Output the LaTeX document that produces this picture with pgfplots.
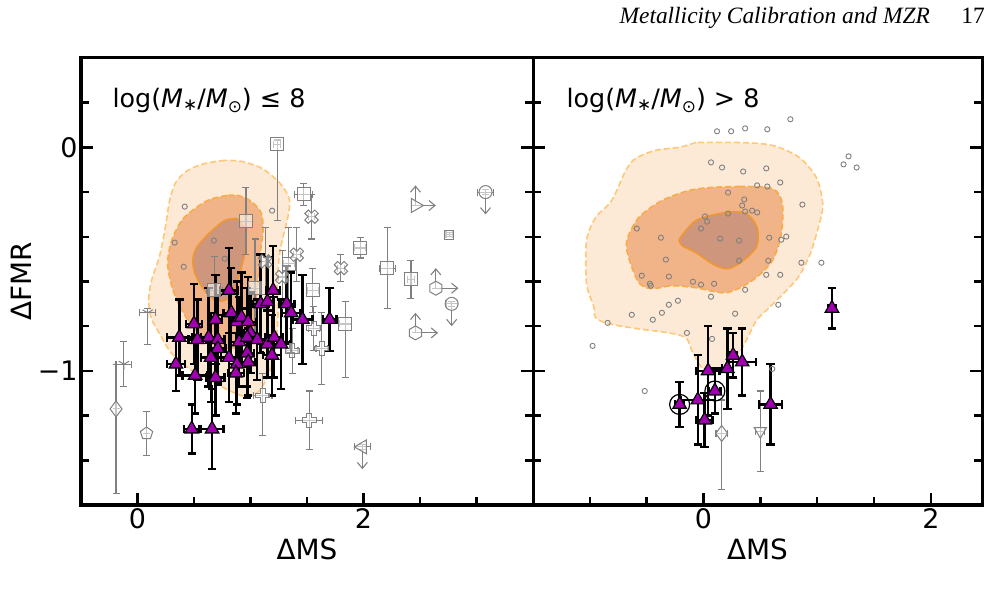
\documentclass[border=0pt]{standalone}
\usepackage{fontspec}
\setmainfont{DejaVu Sans}
\newfontfamily\hdr{Liberation Serif}
\usepackage{pgfplots}
\pgfplotsset{compat=1.18}
\usetikzlibrary{plotmarks,arrows.meta}

\definecolor{purp}{RGB}{160,0,175}
\definecolor{c1}{RGB}{253,234,214}
\definecolor{c2}{RGB}{241,180,136}
\definecolor{c3}{RGB}{205,150,125}
\definecolor{e1}{RGB}{254,200,120}
\definecolor{e2}{RGB}{250,170,70}
\definecolor{e3}{RGB}{240,150,50}
\definecolor{gmark}{RGB}{128,128,128}

\pgfdeclareplotmark{hexagon}{%
 \pgfpathmoveto{\pgfpointpolar{90}{\pgfplotmarksize}}%
 \pgfpathlineto{\pgfpointpolar{150}{\pgfplotmarksize}}%
 \pgfpathlineto{\pgfpointpolar{210}{\pgfplotmarksize}}%
 \pgfpathlineto{\pgfpointpolar{270}{\pgfplotmarksize}}%
 \pgfpathlineto{\pgfpointpolar{330}{\pgfplotmarksize}}%
 \pgfpathlineto{\pgfpointpolar{30}{\pgfplotmarksize}}%
 \pgfpathclose\pgfusepathqfillstroke}
\pgfdeclareplotmark{plusP}{%
 \pgfpathmoveto{\pgfpoint{0.35\pgfplotmarksize}{\pgfplotmarksize}}%
 \pgfpathlineto{\pgfpoint{0.35\pgfplotmarksize}{0.35\pgfplotmarksize}}%
 \pgfpathlineto{\pgfpoint{\pgfplotmarksize}{0.35\pgfplotmarksize}}%
 \pgfpathlineto{\pgfpoint{\pgfplotmarksize}{-0.35\pgfplotmarksize}}%
 \pgfpathlineto{\pgfpoint{0.35\pgfplotmarksize}{-0.35\pgfplotmarksize}}%
 \pgfpathlineto{\pgfpoint{0.35\pgfplotmarksize}{-\pgfplotmarksize}}%
 \pgfpathlineto{\pgfpoint{-0.35\pgfplotmarksize}{-\pgfplotmarksize}}%
 \pgfpathlineto{\pgfpoint{-0.35\pgfplotmarksize}{-0.35\pgfplotmarksize}}%
 \pgfpathlineto{\pgfpoint{-\pgfplotmarksize}{-0.35\pgfplotmarksize}}%
 \pgfpathlineto{\pgfpoint{-\pgfplotmarksize}{0.35\pgfplotmarksize}}%
 \pgfpathlineto{\pgfpoint{-0.35\pgfplotmarksize}{0.35\pgfplotmarksize}}%
 \pgfpathlineto{\pgfpoint{-0.35\pgfplotmarksize}{\pgfplotmarksize}}%
 \pgfpathclose\pgfusepathqfillstroke}
\pgfdeclareplotmark{xP}{\pgftransformrotate{45}\pgfuseplotmark{plusP}}

\tikzset{gmk/.style={draw=gmark, fill=white, fill opacity=0.55, line width=1bp}}

\pgfplotsset{
 panel/.style={
  anchor=south west, scale only axis, height=447bp,
  ymin=-1.6, ymax=0.4, ytick={-1,0},
  minor ytick={-1.4,-1.2,-0.8,-0.6,-0.4,-0.2,0.2},
  xtick={0,2}, xticklabels={0,2},
  tick align=inside, xtick pos=lower,
  major tick length=12bp, minor tick length=8bp,
  tick style={black, line width=2.5bp},
  axis line style={line width=3bp},
  axis on top,
  tick label style={font=\fontsize{27}{32}\selectfont},
  label style={font=\fontsize{28}{34}\selectfont},
  xlabel={ΔMS},
  xlabel style={at={(rel axis cs:0.5,-0.1)}, anchor=center},
 },
 gerr/.style={only marks,
  mark options={gmk},
  error bars/x dir=both, error bars/x explicit,
  error bars/y dir=both, error bars/y explicit,
  error bars/error bar style={gmark, line width=1.1bp},
  error bars/error mark options={rotate=90, gmark, mark size=3.5bp, line width=1.1bp}},
 perr/.style={only marks, mark=triangle*, mark size=7.8bp,
  mark options={fill=purp, draw=black, line width=1.2bp},
  error bars/x dir=both, error bars/x explicit,
  error bars/y dir=both, error bars/y explicit,
  error bars/error bar style={black, line width=2.4bp},
  error bars/error mark options={rotate=90, black, mark size=4.2bp, line width=2.4bp}},
 gcirc/.style={only marks, mark=o, mark size=2.6bp, gmark, mark options={line width=0.9bp}},
 cont1/.style={fill=c1, draw=e1, line width=1.6bp, dash pattern=on 6bp off 3bp, smooth, no markers},
 cont2/.style={fill=c2, draw=e2, line width=1.6bp, dash pattern=on 6bp off 3bp, smooth, no markers},
 cont3/.style={fill=c3, draw=e3, line width=1.6bp, smooth, no markers},
}

\begin{document}
\begin{tikzpicture}
\path[use as bounding box] (0bp,0bp) rectangle (998bp,604bp);
\node[anchor=base east, inner sep=0pt, font=\hdr\itshape\fontsize{23.5}{28}\selectfont] at (930bp,580bp) {Metallicity Calibration and MZR};
\node[anchor=base east, inner sep=0pt, font=\hdr\fontsize{23.5}{28}\selectfont] at (985bp,580bp) {17};

% ---------------- left panel ----------------
\begin{axis}[panel, at={(81bp,99bp)}, width=452bp,
  xmin=-0.5, xmax=3.5, minor xtick={0.5,1,1.5,2.5,3},
  yticklabels={−1,0},
  ylabel={ΔFMR},
  ylabel style={at={(rel axis cs:-0.131,0.5)}, anchor=center},
]
\addplot[cont1] coordinates {(0.773,-0.058) (0.596,-0.072) (0.444,-0.103) (0.338,-0.157) (0.284,-0.238) (0.249,-0.350) (0.196,-0.484) (0.124,-0.596) (0.098,-0.686) (0.124,-0.767) (0.196,-0.834) (0.284,-0.910) (0.391,-0.964) (0.551,-1.022) (0.729,-1.067) (0.933,-1.112) (1.067,-1.094) (1.173,-1.000) (1.227,-0.865) (1.244,-0.731) (1.236,-0.610) (1.262,-0.462) (1.333,-0.305) (1.342,-0.229) (1.262,-0.161) (1.102,-0.094) (0.924,-0.063) (0.773,-0.058)};
\addplot[cont2] coordinates {(0.791,-0.215) (0.640,-0.233) (0.507,-0.274) (0.391,-0.327) (0.302,-0.417) (0.267,-0.516) (0.302,-0.619) (0.373,-0.709) (0.480,-0.798) (0.622,-0.865) (0.773,-0.901) (0.924,-0.888) (1.013,-0.821) (1.049,-0.709) (1.067,-0.596) (1.084,-0.484) (1.111,-0.372) (1.093,-0.291) (0.996,-0.238) (0.889,-0.215) (0.791,-0.215)};
\addplot[cont3] coordinates {(0.880,-0.318) (0.951,-0.363) (0.960,-0.439) (0.924,-0.529) (0.871,-0.619) (0.800,-0.677) (0.693,-0.686) (0.596,-0.641) (0.516,-0.574) (0.489,-0.507) (0.524,-0.448) (0.640,-0.381) (0.773,-0.327) (0.880,-0.318)};
\addplot[gcirc] coordinates {(0.418,-0.265) (0.329,-0.426) (0.409,-0.534) (0.676,-0.417) (0.773,-0.498) (1.191,-0.283)};
% squares
\addplot[gerr, mark=square*, mark size=6.5bp] coordinates {
 (1.236,0.013) += (0.03,0.02) -= (0.03,0.34)
 (0.96,-0.33) +- (0.06,0.15)
 (0.68,-0.64) +- (0.07,0.15)
 (1.04,-0.63) +- (0.05,0.22)
 (1.47,-0.21) +- (0.08,0.05)
 (1.34,-0.52) +- (0.05,0.16)
 (1.55,-0.64) +- (0.05,0.10)
 (1.97,-0.45) +- (0.05,0.045)
 (2.21,-0.54) +- (0.07,0.18)
 (2.42,-0.59) +- (0.03,0.085)
 (1.84,-0.79) += (0.05,0.10) -= (0.05,0.24)
};
\addplot[gerr, mark=square*, mark size=4.5bp] coordinates {(2.76,-0.39) +- (0.03,0.01)};
% thick x
\addplot[gerr, mark=xP, mark size=7bp] coordinates {
 (1.54,-0.31) +- (0.03,0.10)
 (1.41,-0.48) +- (0.03,0.12)
 (1.80,-0.54) +- (0.03,0.06)
 (1.13,-0.51) +- (0.03,0.15)
 (1.28,-0.58) +- (0.03,0.12)
};
% thick plus
\addplot[gerr, mark=plusP, mark size=7bp] coordinates {
 (1.56,-0.81) +- (0.05,0.10)
 (1.63,-0.90) +- (0.05,0.16)
 (1.37,-0.91) +- (0.05,0.10)
 (1.11,-1.11) += (0.08,0.10) -= (0.08,0.18)
 (1.52,-1.22) +- (0.12,0.13)
};
\addplot[gerr, mark=pentagon*, mark size=6.5bp] coordinates {(0.08,-1.28) +- (0.0,0.10)};
\addplot[gerr, mark=diamond*, mark size=8bp] coordinates {(-0.19,-1.17) += (0,0.20) -= (0,0.38)};
\addplot[gerr, mark=Mercedes star flipped, mark size=6bp] coordinates {
 (0.09,-0.74) += (0.07,0.02) -= (0.07,0.14)
 (-0.12,-0.97) +- (0.07,0.10)
};
% limits
\addplot[gerr, mark=triangle*, mark size=8bp, mark options={gmk, rotate=-90}] coordinates {(2.46,-0.26) +- (0,0)};
\addplot[gerr, mark=*, mark size=6.5bp] coordinates {(3.08,-0.20) +- (0.07,0.01) (2.78,-0.70) +- (0.05,0.01)};
\addplot[gerr, mark=hexagon, mark size=7bp] coordinates {(2.64,-0.63) +- (0,0) (2.46,-0.83) +- (0,0)};
\addplot[gerr, mark=triangle*, mark size=8bp, mark options={gmk, rotate=90}] coordinates {(1.99,-1.34) +- (0.07,0.01)};
\addplot[gmark, line width=1.1bp, -{Straight Barb[length=6bp,width=10bp]},
  quiver={u=\thisrow{u}, v=\thisrow{v}}] table[row sep=\\] {
 x y u v\\
 2.46 -0.26 0 0.09\\
 2.46 -0.26 0.18 0\\
 3.08 -0.20 0 -0.10\\
 2.64 -0.63 0 0.09\\
 2.64 -0.63 0.20 0\\
 2.78 -0.70 0 -0.10\\
 2.46 -0.83 0 0.09\\
 2.46 -0.83 0.20 0\\
 1.99 -1.34 0 -0.10\\
};
% purple
\addplot[perr] coordinates {
 (0.81,-0.64) +- (0.08,0.19)
 (1.20,-0.64) +- (0.06,0.20)
 (1.09,-0.70) +- (0.07,0.22)
 (1.15,-0.69) +- (0.06,0.20)
 (1.32,-0.70) +- (0.07,0.17)
 (1.36,-0.74) +- (0.08,0.18)
 (1.46,-0.77) +- (0.09,0.20)
 (1.70,-0.77) +- (0.06,0.14)
 (0.83,-0.74) +- (0.07,0.20)
 (0.69,-0.77) +- (0.06,0.20)
 (0.50,-0.79) +- (0.07,0.18)
 (0.88,-0.78) +- (0.07,0.18)
 (0.92,-0.76) +- (0.08,0.20)
 (0.98,-0.78) +- (0.07,0.20)
 (1.00,-0.83) +- (0.06,0.18)
 (0.37,-0.85) +- (0.11,0.17)
 (0.53,-0.86) +- (0.08,0.18)
 (0.63,-0.85) +- (0.07,0.22)
 (0.71,-0.86) +- (0.06,0.20)
 (0.71,-0.90) +- (0.07,0.15)
 (0.90,-0.87) +- (0.07,0.20)
 (0.97,-0.85) +- (0.06,0.22)
 (1.06,-0.86) +- (0.07,0.18)
 (1.15,-0.88) +- (0.09,0.15)
 (1.21,-0.85) +- (0.08,0.18)
 (1.27,-0.88) +- (0.08,0.20)
 (0.65,-0.94) +- (0.09,0.20)
 (0.81,-0.94) +- (0.07,0.20)
 (0.97,-0.92) +- (0.06,0.20)
 (0.98,-0.96) +- (0.06,0.15)
 (0.88,-0.97) +- (0.07,0.18)
 (1.19,-0.93) +- (0.08,0.18)
 (0.34,-0.97) +- (0.08,0.12)
 (0.51,-1.02) +- (0.11,0.17)
 (0.69,-1.03) +- (0.08,0.17)
 (0.87,-1.01) +- (0.07,0.18)
 (0.48,-1.26) +- (0.07,0.11)
 (0.66,-1.26) +- (0.10,0.18)
};
\node[anchor=west, font=\fontsize{25.5}{30}\selectfont] at (rel axis cs:0.062,0.906)
 {log(\textit{M}\raisebox{-3bp}{\fontsize{17}{17}\selectfont ∗}/\textit{M}\raisebox{-5bp}{\fontsize{17}{17}\selectfont ⊙}) ≤ 8};
\end{axis}

% ---------------- right panel ----------------
\begin{axis}[panel, at={(533bp,99bp)}, width=449bp,
  xmin=-1.5, xmax=2.45, minor xtick={-1,-0.5,0.5,1,1.5},
  yticklabels={},
]
\addplot[cont1] coordinates {(-0.066,0.022) (-0.216,0.000) (-0.419,-0.013) (-0.596,-0.049) (-0.684,-0.103) (-0.808,-0.238) (-0.949,-0.314) (-1.029,-0.417) (-1.029,-0.610) (-0.967,-0.709) (-0.949,-0.762) (-0.834,-0.789) (-0.570,-0.812) (-0.305,-0.830) (-0.155,-0.852) (-0.102,-0.910) (-0.013,-0.987) (0.110,-1.000) (0.225,-0.969) (0.340,-0.897) (0.464,-0.776) (0.578,-0.717) (0.728,-0.641) (0.843,-0.574) (0.949,-0.462) (1.037,-0.305) (1.046,-0.238) (0.993,-0.135) (0.843,-0.045) (0.605,0.009) (0.313,0.022) (-0.066,0.022)};
\addplot[cont2] coordinates {(0.313,-0.175) (0.605,-0.184) (0.693,-0.251) (0.684,-0.386) (0.605,-0.507) (0.428,-0.596) (0.199,-0.650) (-0.066,-0.628) (-0.278,-0.619) (-0.455,-0.632) (-0.570,-0.605) (-0.658,-0.493) (-0.675,-0.417) (-0.570,-0.314) (-0.366,-0.238) (-0.128,-0.193) (0.075,-0.179) (0.313,-0.175)};
\addplot[cont3] coordinates {(-0.216,-0.413) (-0.066,-0.327) (0.199,-0.291) (0.375,-0.296) (0.472,-0.359) (0.464,-0.448) (0.313,-0.520) (0.199,-0.543) (0.075,-0.520) (-0.066,-0.471) (-0.190,-0.439) (-0.216,-0.413)};
\addplot[gcirc] coordinates {
 (0.119,0.072) (0.243,0.072) (0.366,0.085) (0.561,0.081) (0.764,0.126)
 (0.066,-0.067) (0.163,-0.090) (0.349,-0.108) (0.552,-0.094)
 (0.675,-0.157) (0.472,-0.170) (0.561,-0.175)
 (0.216,-0.202) (0.358,-0.233) (0.340,-0.260) (0.366,-0.287) (0.428,-0.283) (0.472,-0.291)
 (0.216,-0.296) (0.013,-0.309) (0.031,-0.332) (-0.022,-0.363) (-0.587,-0.363)
 (-0.375,-0.404) (0.146,-0.408) (0.313,-0.417) (0.578,-0.404) (0.728,-0.399) (0.684,-0.413) (0.870,-0.256)
 (-0.331,-0.502) (0.313,-0.507) (0.570,-0.507) (0.861,-0.516) (1.037,-0.516)
 (-0.543,-0.574) (-0.305,-0.578) (0.552,-0.570) (0.675,-0.570)
 (-0.472,-0.610) (-0.464,-0.619) (-0.093,-0.601) (-0.022,-0.614) (0.093,-0.610)
 (0.366,-0.637) (0.066,-0.668)
 (-0.225,-0.686) (-0.305,-0.704) (0.658,-0.704)
 (-0.631,-0.749) (-0.366,-0.740) (-0.446,-0.771) (0.278,-0.744) (-0.843,-0.785)
 (-0.146,-0.830) (0.075,-0.857) (-0.976,-0.888) (-0.517,-1.090) (0.605,-0.991)
 (1.276,-0.040) (1.232,-0.076) (1.347,-0.090)
};
\addplot[gerr, mark=diamond*, mark size=8bp] coordinates {(0.16,-1.28) += (0.05,0.15) -= (0.05,0.25)};
\addplot[gerr, mark=triangle*, mark size=7bp, mark options={gmk, rotate=180}] coordinates {(0.50,-1.27) +- (0.04,0.18)};
\addplot[only marks, mark=o, mark size=10bp, black, mark options={line width=1.2bp}] coordinates {(-0.21,-1.15) (0.10,-1.09)};
\addplot[perr] coordinates {
 (1.13,-0.72) +- (0.03,0.09)
 (0.26,-0.93) +- (0.03,0.10)
 (0.34,-0.96) +- (0.12,0.15)
 (0.21,-0.99) +- (0.05,0.18)
 (0.04,-1.00) +- (0.10,0.20)
 (-0.05,-1.13) +- (0.15,0.20)
 (0.10,-1.09) +- (0.05,0.10)
 (-0.21,-1.15) +- (0.04,0.10)
 (0.01,-1.22) +- (0.07,0.12)
 (0.59,-1.15) +- (0.10,0.18)
};
\node[anchor=west, font=\fontsize{25.5}{30}\selectfont] at (rel axis cs:0.067,0.906)
 {log(\textit{M}\raisebox{-3bp}{\fontsize{17}{17}\selectfont ∗}/\textit{M}\raisebox{-5bp}{\fontsize{17}{17}\selectfont ⊙}) > 8};
\end{axis}
\end{tikzpicture}
\end{document}
